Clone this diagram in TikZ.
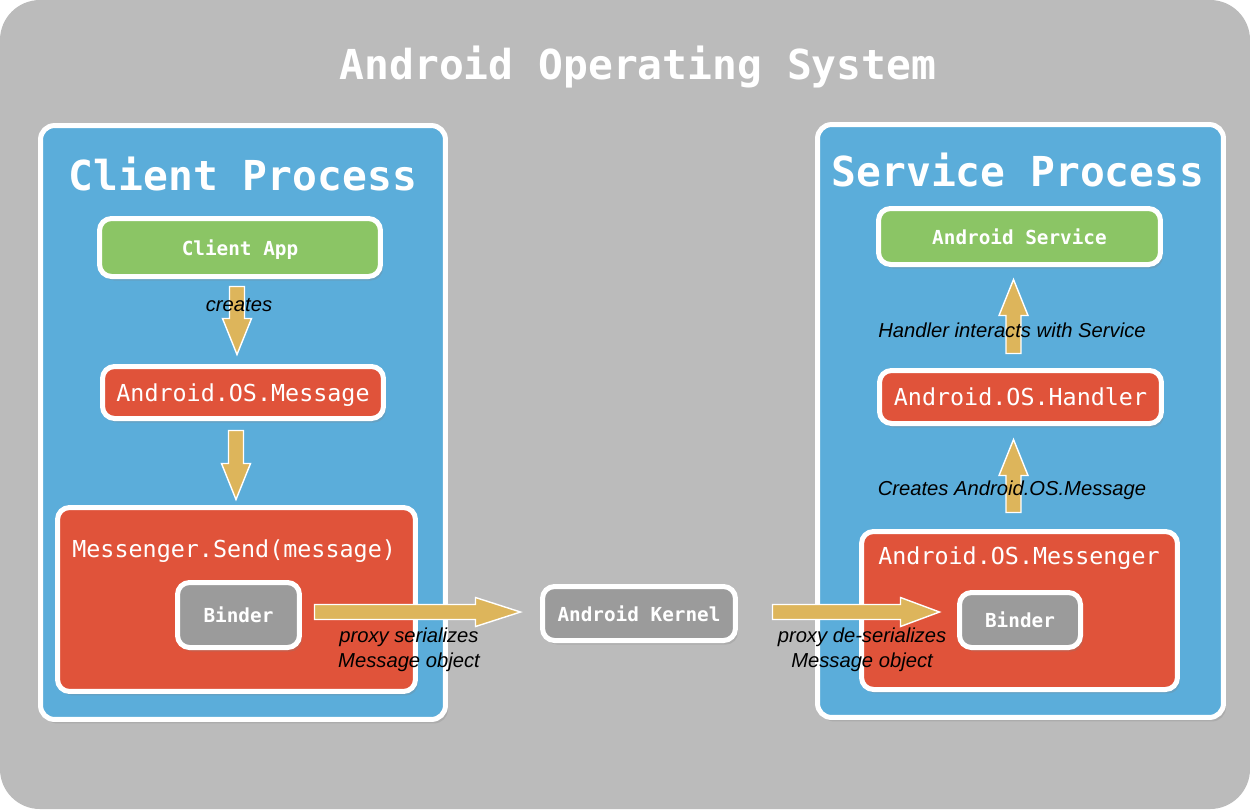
\documentclass[tikz,border=0pt]{standalone}
\usepackage{fontspec}
\setmainfont{Liberation Sans}
\newfontfamily\mono{DejaVu Sans Mono}
\usetikzlibrary{calc,shadows}
\definecolor{bggray}{RGB}{187,187,187}
\definecolor{procblue}{RGB}{91,173,218}
\definecolor{appgreen}{RGB}{139,197,101}
\definecolor{objred}{RGB}{224,83,58}
\definecolor{bindgray}{RGB}{155,155,155}
\definecolor{gold}{RGB}{221,181,91}
\tikzset{
  shad/.style={drop shadow={opacity=0.25,shadow xshift=0.05cm,shadow yshift=-0.08cm}},
  proc/.style={draw=white, line width=0.1cm, fill=procblue, rounded corners=0.28cm, inner sep=0pt, shad},
  box/.style={draw=white, line width=0.1cm, rounded corners=0.24cm, inner sep=0pt, text=white, text depth=0pt, shad},
  greenbox/.style={box, fill=appgreen, font=\mono\bfseries\fontsize{11}{13}\selectfont},
  redbox/.style={box, fill=objred, font=\mono\fontsize{13.3}{16}\selectfont},
  graybox/.style={box, fill=bindgray, font=\mono\bfseries\fontsize{11}{13}\selectfont},
  ptitle/.style={text=white, font=\mono\bfseries\fontsize{23.5}{28}\selectfont},
  redtitle/.style={text=white, font=\mono\fontsize{13.3}{16}\selectfont},
  lbl/.style={text=black, align=center, inner sep=0pt, font=\itshape\fontsize{11.5}{14.2}\selectfont},
  blk/.style={fill=gold, draw=white, line width=0.8pt, line join=miter},
}
% block arrow from #2 to tip #3, head length #1
\newcommand\blockarrow[3][0.72cm]{%
  \coordinate (#3hb) at ($(#3)!#1!(#2)$);
  \draw[blk] ($(#2)!0.15cm!90:(#3)$) -- ($(#3hb)!0.15cm!90:(#3)$) -- ($(#3hb)!0.29cm!90:(#3)$) -- (#3)
    -- ($(#3hb)!0.29cm!-90:(#3)$) -- ($(#3hb)!0.15cm!-90:(#3)$) -- ($(#2)!0.15cm!-90:(#3)$) -- cycle;
}
\begin{document}
\begin{tikzpicture}[x=0.02cm,y=-0.02cm]
\useasboundingbox (0,0) rectangle (1250,809);
\fill[white] (0,0) rectangle (1250,809);
\fill[bggray, rounded corners=0.8cm] (0,0) rectangle (1250,809);

\node[ptitle] (title) at (638,67) {Android Operating System};

% process containers
\node[proc, minimum width=8.1cm, minimum height=11.88cm] (cp) at (243,422.5) {};
\node[proc, minimum width=8.12cm, minimum height=11.86cm] (sp) at (1020.5,421) {};
\node[ptitle] (cpt) at (243,174) {Client Process};
\node[ptitle] (spt) at (1018,170) {Service Process};

% client side
\node[greenbox, minimum width=5.62cm, minimum height=1.16cm] (capp) at (240,247.5) {Client App};
\node[redbox, minimum width=5.62cm, minimum height=1.04cm] (msg) at (243,392.5) {Android.OS.Message};
\node[box, fill=objred, minimum width=7.16cm, minimum height=3.68cm] (send) at (236.5,599.5) {};
\node[redtitle, anchor=west, inner sep=0pt] (sendt) at (72,551.5) {Messenger.Send(message)};
\node[graybox, minimum width=2.44cm, minimum height=1.3cm] (b1) at (238.5,615) {Binder};

% kernel
\node[graybox, minimum width=3.86cm, minimum height=1.08cm] (kern) at (639,613.5) {Android Kernel};

% service side
\node[greenbox, minimum width=5.64cm, minimum height=1.12cm] (asvc) at (1019.5,236.5) {Android Service};
\node[redbox, minimum width=5.64cm, minimum height=1.06cm] (hdl) at (1020.5,397) {Android.OS.Handler};
\node[box, fill=objred, minimum width=6.32cm, minimum height=3.16cm] (msgr) at (1019.5,610.5) {};
\node[redtitle, inner sep=0pt] (msgrt) at (1019,558) {Android.OS.Messenger};
\node[graybox, minimum width=2.42cm, minimum height=1.1cm] (b2) at (1020,620) {Binder};

% connector end points
\coordinate (a1s) at ($(capp.south)+(-3,7.5)$);
\coordinate (a1e) at ($(msg.north)+(-6,-9.5)$);
\coordinate (a2s) at ($(msg.south)+(-7,9.5)$);
\coordinate (a2e) at ($(send.north)+(-0.5,-5.5)$);
\coordinate (a3s) at ($(b1.east)+(12.5,-3)$);
\coordinate (a3e) at ($(kern.west)+(-19.5,-1.5)$);
\coordinate (a4s) at ($(kern.east)+(34.5,-1.5)$);
\coordinate (a4e) at ($(b2.west)+(-17.5,-8)$);
\coordinate (a5s) at ($(hdl.north)+(-7,-14.5)$);
\coordinate (a5e) at ($(asvc.south)+(-6,12.5)$);
\coordinate (a6s) at ($(msgr.north)+(-6,-16.5)$);
\coordinate (a6e) at ($(hdl.south)+(-7,13.5)$);

\blockarrow{a1s}{a1e}
\blockarrow{a2s}{a2e}
\blockarrow[0.9cm]{a3s}{a3e}
\blockarrow[0.78cm]{a4s}{a4e}
\blockarrow{a5s}{a5e}
\blockarrow{a6s}{a6e}

% labels
\node[lbl] (l1) at (239,305) {creates};
\node[lbl] (l3) at (409,649.5) {proxy serializes\\Message object};
\node[lbl] (l4) at (862,649.5) {proxy de-serializes\\Message object};
\node[lbl] (l5) at (1012,330) {Handler interacts with Service};
\node[lbl] (l6) at (1012,490) {Creates Android.OS.Message};
\end{tikzpicture}
\end{document}
